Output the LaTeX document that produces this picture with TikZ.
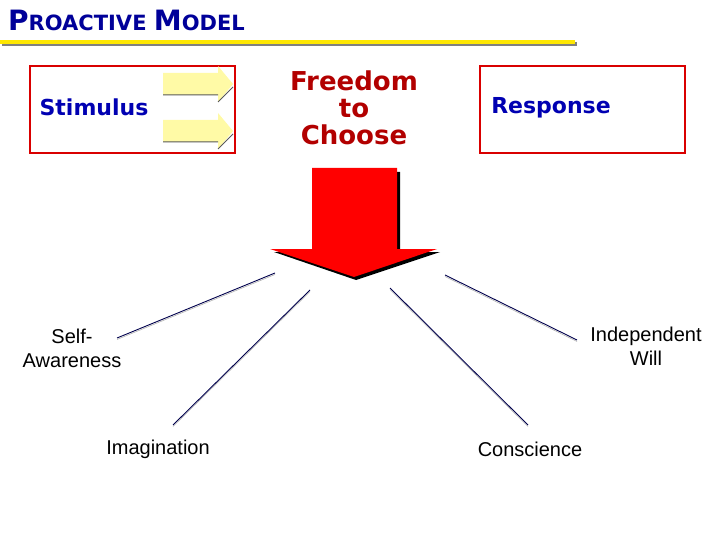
\documentclass[tikz,border=0pt]{standalone}
\usepackage{fontspec}
\setmainfont{Liberation Sans}
\newfontfamily\dv{DejaVu Sans}
\begin{document}
\begin{tikzpicture}[x=1pt,y=-1pt,
 box/.style={draw=red!85!black,line width=2pt},
 yarr/.style={fill=yellow!35},
 lab/.style={font=\fontsize{20}{24}\selectfont,align=center,text=black},
 ln/.style={line width=0.9pt,draw=black!70!blue},
 ln2/.style={line width=0.6pt,draw=gray!60},
 big/.style={font=\dv\bfseries\fontsize{22}{24}\selectfont}]
\useasboundingbox (0,0) rectangle (720,540);
\node[anchor=base west,text=blue!60!black,font=\dv\bfseries,inner sep=0pt] (title) at (8,31) {{\fontsize{28}{30}\selectfont P}{\fontsize{21}{24}\selectfont ROACTIVE }{\fontsize{28}{30}\selectfont M}{\fontsize{21}{24}\selectfont ODEL}};
\fill[gray] (2,42) rectangle (577,46);
\fill[yellow!90!orange] (0,40) rectangle (575,44);
\draw[box] (30,66) rectangle (235,153);
\draw[box] (480,66) rectangle (685,153);
\foreach \y in {84,131}{
 \fill[yarr] (163,\y-11) -- (218,\y-11) -- (218,\y-18) -- (233,\y) -- (218,\y+18) -- (218,\y+11) -- (163,\y+11) -- cycle;
 \draw[gray!70!black,line width=1pt] (163,\y+11) -- (218,\y+11) (218,\y+18) -- (233,\y+3);}
\node[big,text=blue!70!black,inner sep=0pt] (stim) at (94,107) {Stimulus};
\node[big,text=blue!70!black,inner sep=0pt] (resp) at (551,108) {Response};
\node[font=\dv\bfseries\fontsize{26}{27}\selectfont,align=center,text=red!70!black,inner sep=0pt] (free) at (354,108) {Freedom\\to\\Choose};
\fill[black] (316,172) -- (400,172) -- (400,252) -- (440,252) -- (356,280) -- (274,252) -- (316,252) -- cycle;
\fill[red] (312,168) -- (397,168) -- (397,249) -- (437,249) -- (354,277) -- (270,249) -- (312,249) -- cycle;
\node[lab,anchor=south,inner sep=0pt] (self) at (72,368) {Self-\\Awareness};
\node[lab] (imag) at (158,449) {Imagination};
\node[lab] (cons) at (530,449) {Conscience};
\node[lab,anchor=south,inner sep=0pt] (ind) at (646,366) {Independent\\Will};
\coordinate (a1) at (275,273); \coordinate (b1) at (117,338);
\coordinate (a2) at (310,290); \coordinate (b2) at (173,425);
\coordinate (a3) at (390,288); \coordinate (b3) at (528,425);
\coordinate (a4) at (445,275); \coordinate (b4) at (577,340);
\foreach \i in {1,2,3,4}{
 \draw[ln2] ([yshift=-1.5pt]a\i) -- ([yshift=-1.5pt]b\i);
 \draw[ln] (a\i) -- (b\i);}
\end{tikzpicture}
\end{document}
